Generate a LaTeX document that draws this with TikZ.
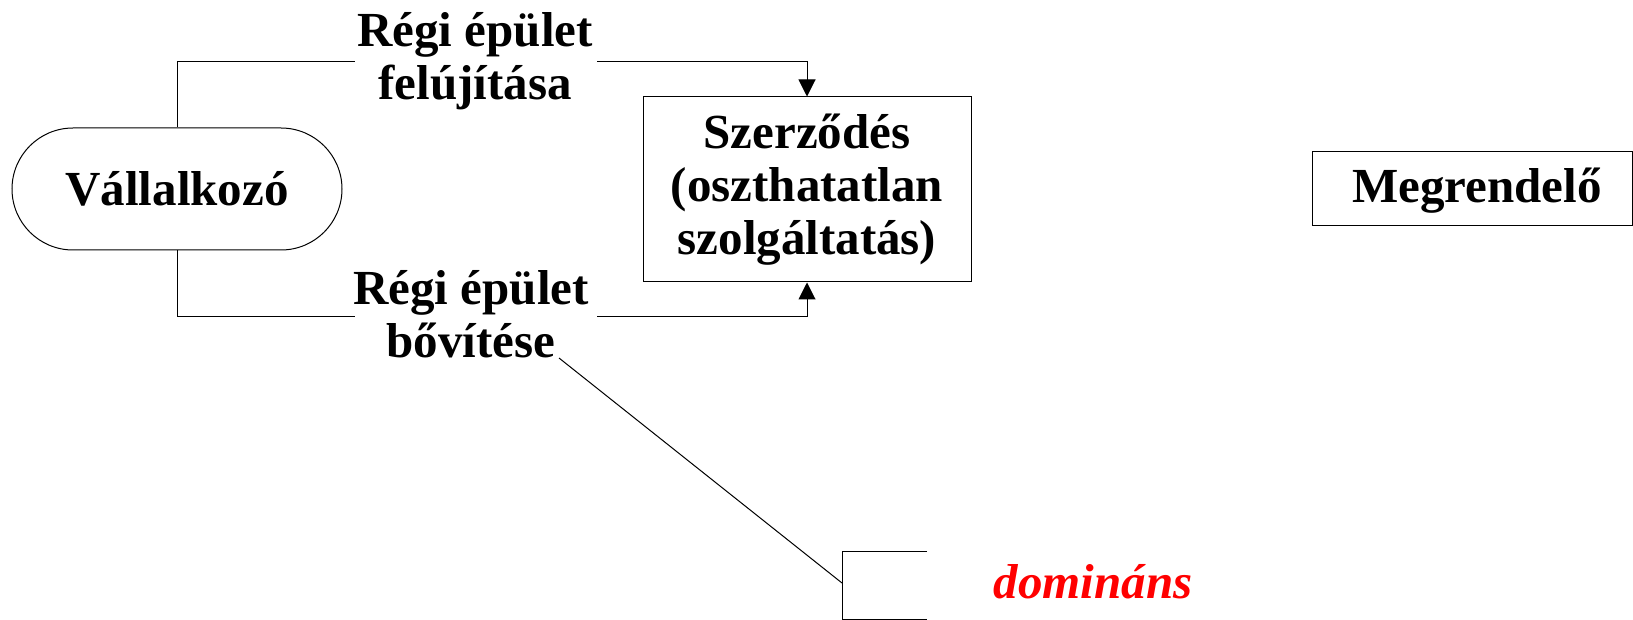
\documentclass[tikz,border=0pt]{standalone}
\usepackage{fontspec}
\setmainfont{Liberation Serif}
\usetikzlibrary{arrows.meta}
\begin{document}
\begin{tikzpicture}[x=1pt,y=-1pt,
  every node/.style={font=\bfseries\fontsize{49}{53}\selectfont, inner sep=0pt},
  conn/.style={line width=1pt, black},
  arr/.style={conn, -{Triangle[length=17pt,width=17pt]}},
  lab/.style={align=center, anchor=base},
  boxnode/.style={draw, line width=1pt}
]
\useasboundingbox (0,0) rectangle (1633,620);
% nodes
\node[boxnode, rounded corners=61pt, minimum width=330pt, minimum height=122pt] (v) at (177,189) {Vállalkozó};
\node[boxnode, minimum width=328pt, minimum height=185pt, align=center] (sz) at (807,189.5) {Szerződés\\(oszthatatlan\\szolgáltatás)};
\node[boxnode, minimum width=320pt, minimum height=74pt] (m) at (1472,189) {};
\node[anchor=base] (mt) at (1477,203) {Megrendelő};
\node[lab] (l1) at (475,100) {Régi épület\\felújítása};
\node[lab] (l2) at (471,357) {Régi épület\\bővítése};
\node[anchor=base, text=red, font=\bfseries\itshape\fontsize{49}{53}\selectfont] (dom) at (1093,598) {domináns};
% gap coordinates
\coordinate (g1a) at (355,61.5);
\coordinate (g1b) at (597,61.5);
\coordinate (g2a) at (355,316.5);
\coordinate (g2b) at (597,316.5);
% connectors
\draw[conn] (v.north) |- (g1a);
\draw[arr] (g1b) -| (sz.north);
\draw[conn] (v.south) |- (g2a);
\draw[arr] (g2b) -| (sz.south);
% callout
\coordinate (c0) at (559,358);
\coordinate (ctl) at (842,551);
\coordinate (ctr) at (927,551);
\coordinate (cbl) at (842,619.5);
\coordinate (cbr) at (927,619.5);
\coordinate (cm) at (842,583);
\draw[conn] (c0) -- (cm);
\draw[conn] (ctr) -- (ctl) -- (cbl) -- (cbr);
\end{tikzpicture}
\end{document}
